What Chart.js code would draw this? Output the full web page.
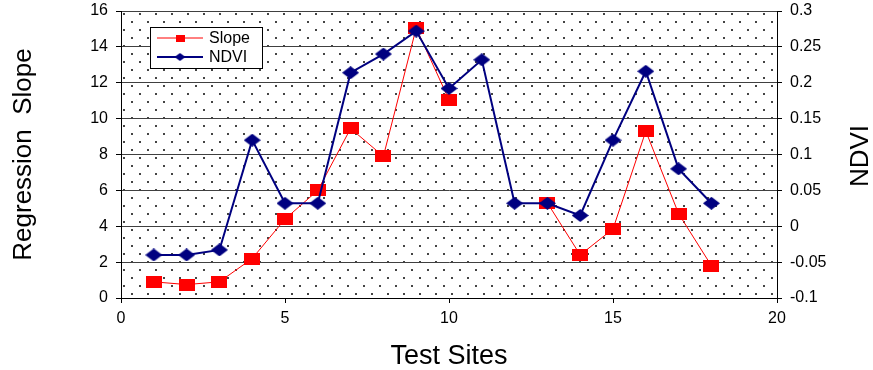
<!DOCTYPE html>
<html>
<head>
<meta charset="utf-8">
<script src="https://cdn.jsdelivr.net/npm/chart.js@4"></script>
<style>
    body { margin: 0; background: #fff; }
</style>
</head>
<body>
<canvas id="chart" width="873" height="370"></canvas>
<script>
// values
const sites = [1, 2, 3, 4, 5, 6, 7, 8, 9, 10, 11, 12, 13, 14, 15, 16, 17, 18];
const slope = [0.9, 0.75, 0.9, 2.2, 4.4, 6.0, 9.45, 7.9, 15.05, 11.05, null, null, 5.3, 2.4, 3.85, 9.3, 4.7, 1.8];
const ndvi = [-0.04, -0.04, -0.033, 0.12, 0.032, 0.032, 0.214, 0.24, 0.272, 0.192, 0.232, 0.032, 0.032, 0.015, 0.12, 0.216, 0.08, 0.032];

const FONT = "'Liberation Sans', Arial, sans-serif";

function marker(w, h, color, diamond) {
    const c = document.createElement("canvas");
    c.width = w;
    c.height = h;
    const g = c.getContext("2d");
    g.fillStyle = color;
    if (diamond) {
        g.beginPath();
        g.moveTo(w / 2, 0);
        g.lineTo(w, h / 2);
        g.lineTo(w / 2, h);
        g.lineTo(0, h / 2);
        g.closePath();
        g.fill();
    } else {
        g.fillRect(0, 0, w, h);
    }
    return c;
}

function dots() {
    const c = document.createElement("canvas");
    c.width = 16;
    c.height = 16;
    const g = c.getContext("2d");
    g.fillStyle = "#fff";
    g.fillRect(0, 0, 16, 16);
    g.fillStyle = "#444";
    g.fillRect(3, 5, 2, 2);
    g.fillRect(11, 13, 2, 2);
    return c;
}

// keep the plot box where the original has it
function fitV(width) {
    return s => {
        s.width = width;
        s.paddingTop = 0;
        s.paddingBottom = 0;
    };
}

const background = {
    id: "background",
    beforeDraw(chart) {
        const {ctx, chartArea: a} = chart;
        ctx.save();
        ctx.fillStyle = ctx.createPattern(dots(), "repeat");
        ctx.fillRect(a.left, a.top, a.right - a.left, a.bottom - a.top);
        ctx.restore();
    }
};

const extras = {
    id: "extras",
    afterDraw(chart) {
        const ctx = chart.ctx;
        ctx.save();
        // right axis title, reads bottom to top
        ctx.translate(861, 156);
        ctx.rotate(-Math.PI / 2);
        ctx.font = "26px " + FONT;
        ctx.fillStyle = "#000";
        ctx.textAlign = "center";
        ctx.textBaseline = "middle";
        ctx.fillText("NDVI", 0, 0);
        ctx.restore();

        // legend box
        ctx.save();
        ctx.fillStyle = "#fff";
        ctx.fillRect(150, 27, 112, 41);
        ctx.strokeStyle = "#000";
        ctx.lineWidth = 1;
        ctx.strokeRect(150.5, 27.5, 112, 41);
        const rows = [38, 57];
        chart.data.datasets.forEach((ds, i) => {
            const y = rows[i];
            ctx.strokeStyle = ds.borderColor;
            ctx.lineWidth = ds.borderWidth;
            ctx.beginPath();
            ctx.moveTo(157, y);
            ctx.lineTo(203, y);
            ctx.stroke();
            ctx.drawImage(ds.legendMarker, 180 - ds.legendMarker.width / 2, y - ds.legendMarker.height / 2);
            ctx.fillStyle = "#000";
            ctx.font = "16px " + FONT;
            ctx.textAlign = "left";
            ctx.textBaseline = "middle";
            ctx.fillText(ds.label, 209, y + 1);
        });
        ctx.restore();
    }
};

new Chart(document.getElementById("chart"), {
    type: "line",
    data: {
        datasets: [{
            label: "Slope",
            data: sites.map((s, i) => ({x: s, y: slope[i]})),
            borderColor: "#ff0000",
            backgroundColor: "#ff0000",
            borderWidth: 1,
            pointStyle: marker(16, 12, "#ff0000", false),
            legendMarker: marker(9, 7, "#ff0000", false),
            yAxisID: "y",
            spanGaps: false,
            order: 2
        },
            {
                label: "NDVI",
                data: sites.map((s, i) => ({x: s, y: ndvi[i]})),
                borderColor: "#000080",
                backgroundColor: "#000080",
                borderWidth: 2,
                pointStyle: marker(17, 13, "#000080", true),
                legendMarker: marker(11, 8, "#000080", true),
                yAxisID: "y1",
                order: 1
            }]
    },
    options: {
        responsive: false,
        animation: false,
        devicePixelRatio: 1,
        layout: {
            padding: {top: 11, left: 0, right: 0, bottom: 0}
        },
        plugins: {
            legend: {display: false},
            tooltip: {enabled: false}
        },
        scales: {
            x: {
                type: "linear",
                min: 0,
                max: 20,
                afterFit: s => {
                    s.height = 72;
                    s.paddingLeft = 0;
                    s.paddingRight = 0;
                },
                ticks: {stepSize: 5, color: "#000", padding: 6, font: {family: FONT, size: 16}},
                grid: {drawOnChartArea: false, tickLength: 5, tickColor: "#000"},
                border: {color: "#000", width: 1},
                title: {
                    display: true,
                    text: "Test Sites",
                    color: "#000",
                    font: {family: FONT, size: 27, lineHeight: 1},
                    padding: {top: 0, bottom: 0}
                }
            },
            y: {
                position: "left",
                min: 0,
                max: 16,
                afterFit: fitV(121),
                ticks: {stepSize: 2, color: "#000", padding: 8, font: {family: FONT, size: 16}},
                grid: {color: "#404040", tickLength: 5, tickColor: "#000"},
                border: {color: "#000", width: 1},
                title: {
                    display: true,
                    text: "Regression  Slope",
                    color: "#000",
                    font: {family: FONT, size: 26, lineHeight: 1},
                    padding: {top: 11, bottom: 0}
                }
            },
            y1: {
                position: "right",
                min: -0.1,
                max: 0.3,
                afterFit: fitV(96),
                ticks: {
                    stepSize: 0.05,
                    color: "#000",
                    padding: 8,
                    font: {family: FONT, size: 16},
                    callback: v => String(parseFloat(v.toFixed(2)))
                },
                grid: {drawOnChartArea: false, tickLength: 5, tickColor: "#000"},
                border: {color: "#000", width: 1}
            }
        }
    },
    plugins: [background, extras]
});
</script>
</body>
</html>
